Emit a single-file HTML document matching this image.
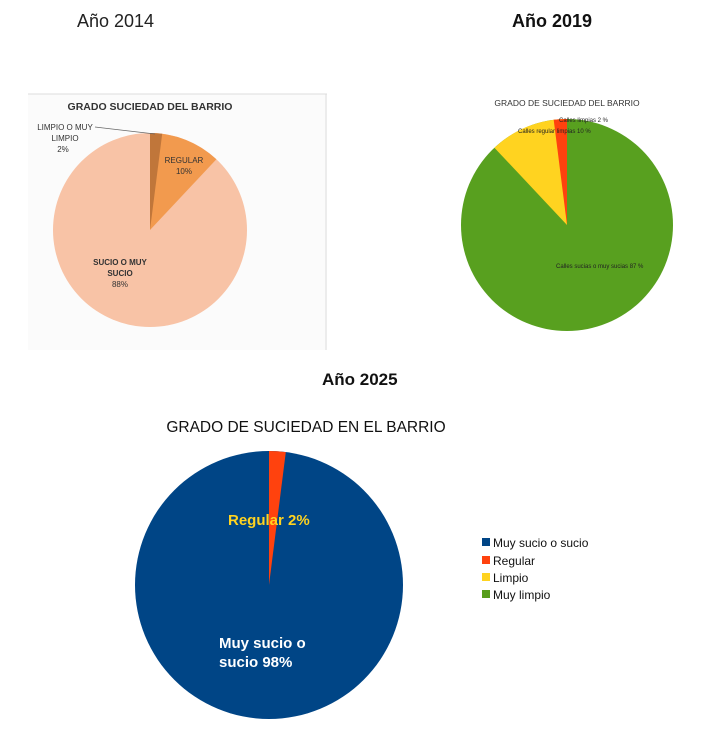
<!DOCTYPE html>
<html><head><meta charset="utf-8"><style>
html,body{margin:0;padding:0;background:#fff;}
svg{display:block;font-family:"Liberation Sans",sans-serif;}
</style></head><body>
<svg width="709" height="729" viewBox="0 0 709 729" xmlns="http://www.w3.org/2000/svg">
<rect width="709" height="729" fill="#fff"/>
<text x="77" y="27" font-size="18" fill="#222">Año 2014</text>
<text x="512" y="27" font-size="18" font-weight="bold" fill="#111">Año 2019</text>
<text x="322" y="385" font-size="17" font-weight="bold" fill="#111">Año 2025</text>

<!-- chart 1 -->
<rect x="28" y="94" width="299" height="256" fill="#fbfbfb"/>
<line x1="28" y1="94" x2="327" y2="94" stroke="#ddd"/>
<line x1="326" y1="94" x2="326" y2="350" stroke="#ddd"/>
<text x="150" y="110" font-size="10.5" font-weight="bold" fill="#333" text-anchor="middle">GRADO SUCIEDAD DEL BARRIO</text>
<circle cx="150" cy="230" r="97" fill="#f8c3a6"/>
<path d="M150,230 L150,133 A97,97 0 0 1 216.4,159.3 Z" fill="#f29a4e"/>
<path d="M150,230 L150,133 A97,97 0 0 1 162.2,133.8 Z" fill="#c0763a"/>
<line x1="95" y1="127" x2="155" y2="134" stroke="#666" stroke-width="0.7"/>
<g font-size="8" fill="#333" text-anchor="middle">
<text x="65" y="130">LIMPIO O MUY</text><text x="65" y="141">LIMPIO</text><text x="63" y="152">2%</text>
<text x="184" y="163">REGULAR</text><text x="184" y="174">10%</text>
</g>
<g font-size="8" font-weight="bold" fill="#333" text-anchor="middle">
<text x="120" y="265">SUCIO O MUY</text><text x="120" y="276">SUCIO</text><text x="120" y="287" font-weight="normal">88%</text>
</g>

<!-- chart 2 -->
<text x="567" y="106" font-size="8.5" fill="#333" text-anchor="middle">GRADO DE SUCIEDAD DEL BARRIO</text>
<circle cx="567" cy="225" r="106" fill="#58a01f"/>
<path d="M567,225 L567,119 A106,106 0 0 0 494.4,147.7 Z" fill="#ffd320"/>
<path d="M567,225 L567,119 A106,106 0 0 0 553.7,119.8 Z" fill="#ff420e"/>
<g font-size="6" fill="#222">
<text x="559" y="122">Calles limpias 2 %</text>
<text x="518" y="133">Calles regular limpias 10 %</text>
<text x="556" y="268">Calles sucias o muy sucias 87 %</text>
</g>

<!-- chart 3 -->
<text x="306" y="432" font-size="15.5" fill="#111" text-anchor="middle">GRADO DE SUCIEDAD EN EL BARRIO</text>
<circle cx="269" cy="585" r="134" fill="#004586"/>
<path d="M269,585 L269,451 A134,134 0 0 1 285.8,452.1 Z" fill="#ff420e"/>
<text x="228" y="525" font-size="15" font-weight="bold" fill="#ffd320">Regular 2%</text>
<text x="219" y="648" font-size="15" font-weight="bold" fill="#fff">Muy sucio o</text>
<text x="219" y="667" font-size="15" font-weight="bold" fill="#fff">sucio 98%</text>
<g font-size="12" fill="#111">
<rect x="482" y="538" width="8" height="8" fill="#004586"/><text x="493" y="547">Muy sucio o sucio</text>
<rect x="482" y="556" width="8" height="8" fill="#ff420e"/><text x="493" y="565">Regular</text>
<rect x="482" y="573" width="8" height="8" fill="#ffd320"/><text x="493" y="582">Limpio</text>
<rect x="482" y="590" width="8" height="8" fill="#579d1c"/><text x="493" y="599">Muy limpio</text>
</g>
</svg>
</body></html>
